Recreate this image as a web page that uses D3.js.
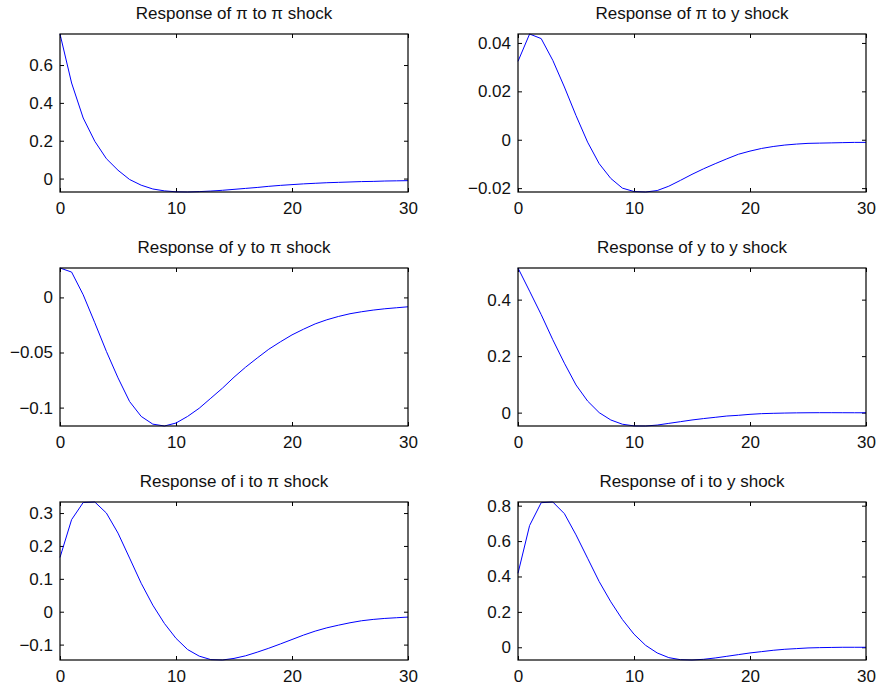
<!DOCTYPE html>
<html>
<head>
<meta charset="utf-8">
<script src="https://cdn.jsdelivr.net/npm/d3@7"></script>
<style>
  body { margin: 0; background: #fff; }
  svg { display: block; }
  text { font-family: "Liberation Sans", Arial, Helvetica, sans-serif; fill: #111; }
</style>
</head>
<body>
<div id="chart"></div>
<script>
var svgWidth = 881;
var svgHeight = 692;

// horizons
var horizons = [0, 1, 2, 3, 4, 5, 6, 7, 8, 9, 10, 11, 12, 13, 14, 15,
  16, 17, 18, 19, 20, 21, 22, 23, 24, 25, 26, 27, 28, 29, 30];
var xTicks = [0, 10, 20, 30];

// impulse responses
var piToPi = [0.764, 0.505, 0.32, 0.197, 0.105, 0.044, -0.005, -0.035, -0.055, -0.065,
  -0.07, -0.071, -0.069, -0.066, -0.062, -0.057, -0.052, -0.047, -0.041, -0.036,
  -0.032, -0.028, -0.025, -0.022, -0.02, -0.018, -0.016, -0.015, -0.013, -0.012, -0.011];
var piToY = [0.0324, 0.0437, 0.0418, 0.0328, 0.0218, 0.010, -0.001, -0.0099, -0.016, -0.020,
  -0.0214, -0.0216, -0.021, -0.0192, -0.0168, -0.0143, -0.012, -0.0099, -0.0079, -0.006,
  -0.0047, -0.0036, -0.0028, -0.0022, -0.0018, -0.0015, -0.0014, -0.0013, -0.0012, -0.0011, -0.0011];
var yToPi = [0.0267, 0.023, 0.0024, -0.023, -0.049, -0.073, -0.0945, -0.108, -0.115, -0.1167,
  -0.114, -0.108, -0.1006, -0.0915, -0.0824, -0.0724, -0.0633, -0.055, -0.047, -0.0403,
  -0.034, -0.0288, -0.024, -0.0203, -0.0173, -0.0148, -0.013, -0.0115, -0.0103, -0.0094, -0.0085];
var yToY = [0.512, 0.43, 0.347, 0.258, 0.175, 0.098, 0.041, 0.0, -0.026, -0.041,
  -0.047, -0.0473, -0.044, -0.038, -0.032, -0.026, -0.021, -0.0166, -0.012, -0.0095,
  -0.006, -0.0036, -0.0024, -0.0015, -0.0008, -0.0004, -0.0002, -0.0002, -0.0003, -0.0004, -0.0005];
var iToPi = [0.165, 0.28, 0.332, 0.3336, 0.30, 0.239, 0.163, 0.0865, 0.02, -0.0356,
  -0.081, -0.115, -0.135, -0.1456, -0.1468, -0.142, -0.134, -0.123, -0.111, -0.098,
  -0.0845, -0.071, -0.059, -0.049, -0.041, -0.0336, -0.0275, -0.0234, -0.0204, -0.0183, -0.0163];
var iToY = [0.418, 0.688, 0.817, 0.8208, 0.755, 0.635, 0.503, 0.371, 0.257, 0.157,
  0.074, 0.011, -0.032, -0.0586, -0.07, -0.0719, -0.068, -0.0605, -0.051, -0.0416,
  -0.032, -0.0246, -0.017, -0.0113, -0.0076, -0.0038, -0.002, -0.001, 0.0, 0.0, 0.0];

var titles = [
  "Response of \u03c0 to \u03c0 shock", "Response of \u03c0 to y shock",
  "Response of y to \u03c0 shock", "Response of y to y shock",
  "Response of i to \u03c0 shock", "Response of i to y shock"
];
var series = [piToPi, piToY, yToPi, yToY, iToPi, iToY];
var yTicks = [
  [0, 0.2, 0.4, 0.6],
  [-0.02, 0, 0.02, 0.04],
  [-0.1, -0.05, 0],
  [0, 0.2, 0.4],
  [-0.1, 0, 0.1, 0.2, 0.3],
  [0, 0.2, 0.4, 0.6, 0.8]
];

// subplot grid
var colLeft = [60, 518];
var rowTop = [34, 268, 502];
var width = 348;
var height = 158;
var tickLen = 4;

var svg = d3.select("#chart")
  .append("svg")
  .attr("width", svgWidth)
  .attr("height", svgHeight);

function fmt(d) {
  return String(d).replace("-", "\u2212");
}

series.forEach(function(values, i) {
  var col = i % 2;
  var row = Math.floor(i / 2);

  var g = svg.append("g")
    .attr("transform", `translate(${colLeft[col]}, ${rowTop[row]})`);

  var x = d3.scaleLinear()
    .domain([0, 30])
    .range([0, width]);

  // axis tight
  var y = d3.scaleLinear()
    .domain(d3.extent(values))
    .range([height, 0]);

  var bottom = g.append("g")
    .attr("transform", `translate(0, ${height})`)
    .call(d3.axisBottom(x).tickValues(xTicks).tickFormat(d3.format("d"))
      .tickSizeInner(-tickLen).tickSizeOuter(0).tickPadding(10));

  var top = g.append("g")
    .call(d3.axisTop(x).tickValues(xTicks).tickFormat("")
      .tickSizeInner(-tickLen).tickSizeOuter(0));

  var left = g.append("g")
    .call(d3.axisLeft(y).tickValues(yTicks[i]).tickFormat(fmt)
      .tickSizeInner(-tickLen).tickSizeOuter(0).tickPadding(7));

  var right = g.append("g")
    .attr("transform", `translate(${width}, 0)`)
    .call(d3.axisRight(y).tickValues(yTicks[i]).tickFormat("")
      .tickSizeInner(-tickLen).tickSizeOuter(0));

  [bottom, top, left, right].forEach(function(a) {
    a.select(".domain").remove();
    a.selectAll(".tick line").attr("stroke", "#000");
    a.selectAll(".tick text")
      .attr("font-size", 17)
      .attr("font-family", "Liberation Sans, Arial, sans-serif")
      .attr("fill", "#111");
  });

  var line = d3.line()
    .x(function(d, k) { return x(horizons[k]); })
    .y(function(d) { return y(d); });

  g.append("path")
    .datum(values)
    .attr("fill", "none")
    .attr("stroke", "#0000ff")
    .attr("stroke-width", 1)
    .attr("d", line);

  // box
  g.append("rect")
    .attr("x", 0)
    .attr("y", 0)
    .attr("width", width)
    .attr("height", height)
    .attr("fill", "none")
    .attr("stroke", "#000")
    .attr("stroke-width", 1.2);

  g.append("text")
    .attr("x", width / 2)
    .attr("y", -15)
    .attr("text-anchor", "middle")
    .attr("font-size", 17)
    .text(titles[i]);
});
</script>
</body>
</html>
